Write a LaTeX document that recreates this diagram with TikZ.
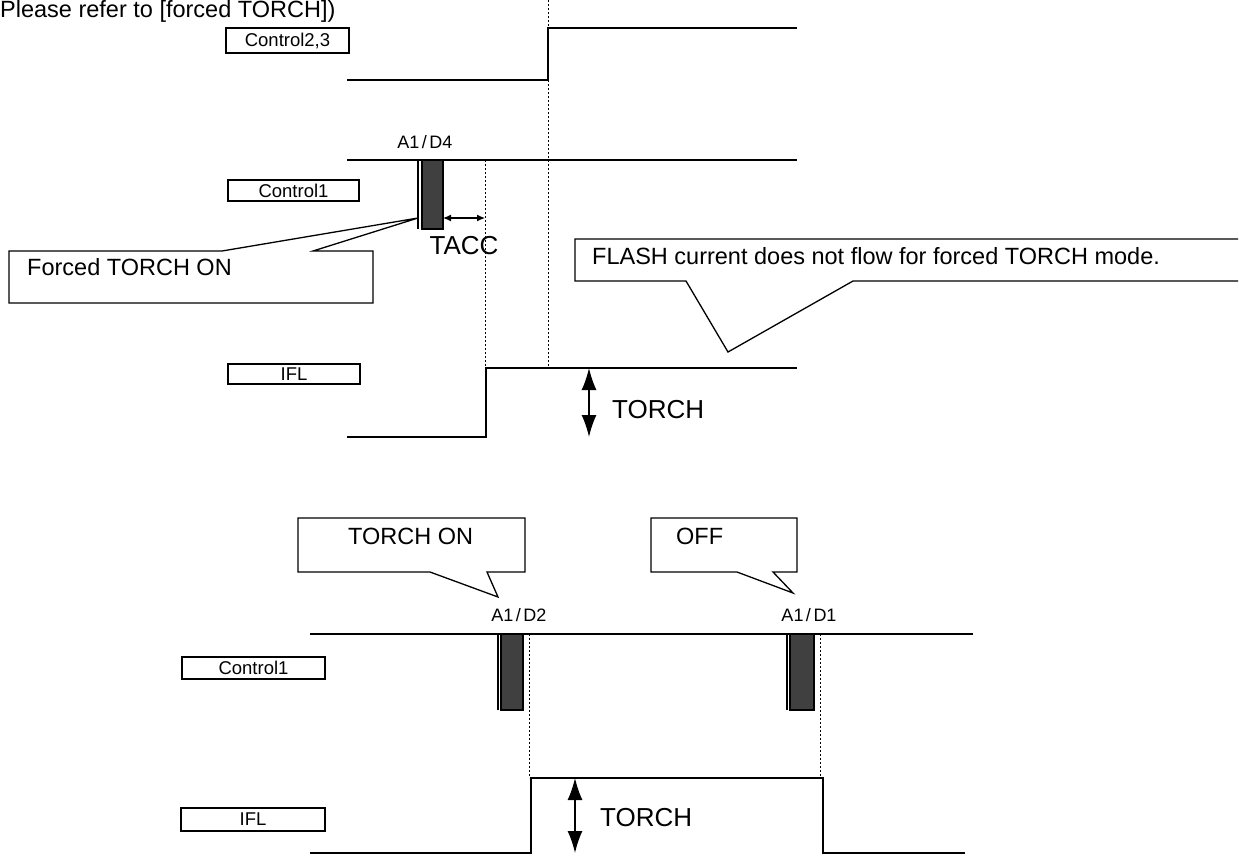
\documentclass[tikz,border=0pt]{standalone}
\usepackage{fontspec}
\setmainfont{Liberation Sans}
\usetikzlibrary{arrows.meta,positioning}
\definecolor{pulsefill}{HTML}{404040}
\tikzset{
  sig/.style={line width=2.4pt,line join=miter},
  tick/.style={line width=1pt,dash pattern=on 2pt off 2pt},
  lbox/.style={draw,line width=1.3pt,inner sep=0pt,font=\fontsize{18.5}{20}\selectfont},
  pulse/.style={draw,line width=1.2pt,fill=pulsefill},
  gate/.style={line width=1.3pt},
  callout/.style={draw,line width=1.3pt,line join=miter},
  big/.style={font=\fontsize{23.5}{28}\selectfont,inner sep=0pt},
  amp/.style={line width=1.5pt,{Latex[length=22pt,width=15pt]}-{Latex[length=22pt,width=15pt]}},
  gap/.style={line width=1.2pt,{Latex[length=8pt,width=7pt]}-{Latex[length=8pt,width=7pt]}},
  tag/.style={font=\fontsize{18}{20}\selectfont,inner sep=0pt},
}
\newcommand{\adname}[1]{A1\kern2.5pt/\kern2.5pt D#1}

\begin{document}
\begin{tikzpicture}[x=1pt,y=-1pt]
  \useasboundingbox (0,0) rectangle (1239,855);
  \node[big,anchor=base west] (note) at (0,17) {Please refer to [forced TORCH])};

  % --- forced TORCH: upper timing ---
  \node[lbox,minimum width=123pt,minimum height=25pt] (c23) at (287.5,40.5) {Control2,3};
  \node[lbox,minimum width=131pt,minimum height=21pt] (ctlA) at (293.5,190.5) {Control1};
  \node[lbox,minimum width=132pt,minimum height=20pt] (iflA) at (294,374) {IFL};

  \draw[tick] (548,0) -- (548,368);
  \draw[tick] (485,160) -- (485,368);
  \draw[sig] (347,80) -- (548,80) -- (548,28) -- (797,28);
  \draw[sig] (347,160) -- (797,160);
  \draw[sig] (347,437) -- (486,437) -- (486,368) -- (797,368);

  \draw[gate] (418,160) -- (418,229);
  \draw[pulse] (422,160) rectangle (443,229);
  \node[tag] (d4) at (425,142) {\adname{4}};

  \coordinate (taccL) at (443,218);
  \coordinate (taccR) at (485,218);
  \draw[gap] (taccL) -- (taccR);
  \node[big,font=\fontsize{26}{30}\selectfont] (tacc) at (464,246) {TACC};

  \coordinate (ampAt) at (589,368);
  \coordinate (ampAb) at (589,437);
  \draw[amp] (ampAt) -- (ampAb);
  \node[big,font=\fontsize{26}{30}\selectfont,anchor=base west] (torchA) at (612,418) {TORCH};

  \draw[callout] (9,251) -- (222,251) -- (418,218) -- (313,251) -- (373,251)
    -- (373,303) -- (9,303) -- cycle;
  \node[big,anchor=base west] (forced) at (27,275) {Forced TORCH ON};

  \draw[callout] (1238,239) -- (575,239) -- (575,281) -- (686,281) -- (728,352)
    -- (853,281) -- (1238,281);
  \node[big,anchor=base west] (flash) at (592,264) {FLASH current does not flow for forced TORCH mode.};

  % --- normal TORCH: lower timing ---
  \node[lbox,minimum width=143pt,minimum height=22pt] (ctlB) at (253.5,668) {Control1};
  \node[lbox,minimum width=144pt,minimum height=23pt] (iflB) at (253,819.5) {IFL};

  \draw[sig] (310,634) -- (973,634);
  \foreach \x/\w/\n in {498/22/2,787/24/1}{
    \draw[gate] (\x,634) -- (\x,710);
    \draw[pulse] (\x+3,634) rectangle (\x+3+\w,710);
    \draw[tick] (\x+\w+9,634) -- (\x+\w+9,778);
    \node[tag] (d\n) at (\x+\w/2+10,615) {\adname{\n}};
  }
  \draw[sig] (310,853) -- (531,853) -- (531,778) -- (823,778) -- (823,853) -- (965,853);

  \coordinate (ampBt) at (575,778);
  \coordinate (ampBb) at (575,853);
  \draw[amp] (ampBt) -- (ampBb);
  \node[big,font=\fontsize{26}{30}\selectfont,anchor=base west] (torchB) at (600,826) {TORCH};

  \draw[callout] (430,572) -- (298,572) -- (298,518) -- (525,518) -- (525,572)
    -- (487,572) -- (498,597) -- cycle;
  \node[big,anchor=base west] (onB) at (348,544) {TORCH ON};

  \draw[callout] (737,572) -- (651,572) -- (651,518) -- (797,518) -- (797,572)
    -- (773,572) -- (793,593) -- cycle;
  \node[big,anchor=base west] (offB) at (676,544) {OFF};
\end{tikzpicture}
\end{document}
